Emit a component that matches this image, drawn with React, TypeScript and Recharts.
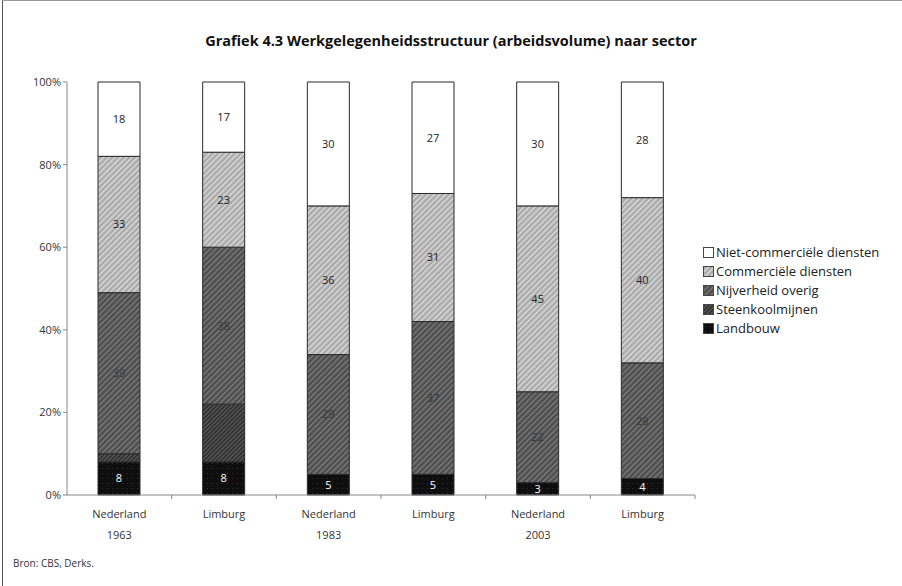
import React from "react";
import { BarChart, Bar, XAxis, YAxis, LabelList } from "recharts";

// categories
const regions = ["Nederland", "Limburg", "Nederland", "Limburg", "Nederland", "Limburg"];
const years = ["1963", "", "1983", "", "2003", ""];

// shares per sector (%), bottom to top
const landbouw = [8, 8, 5, 5, 3, 4];
const steenkoolmijnen = [2, 14, 0, 0, 0, 0];
const nijverheidOverig = [39, 38, 29, 37, 22, 28];
const commercieleDiensten = [33, 23, 36, 31, 45, 40];
const nietCommercieleDiensten = [18, 17, 30, 27, 30, 28];

const yTicks = [0, 20, 40, 60, 80, 100];

const data = regions.map((r, i) => ({
  key: `${r}-${i}`,
  landbouw: landbouw[i],
  steenkool: steenkoolmijnen[i],
  nijverheid: nijverheidOverig[i],
  commercieel: commercieleDiensten[i],
  niet: nietCommercieleDiensten[i],
}));

const series = [
  { key: "landbouw", name: "Landbouw", fill: "url(#pLandbouw)", label: "#ffffff", showLabel: true },
  { key: "steenkool", name: "Steenkoolmijnen", fill: "url(#pSteenkool)", label: "#3a3a3a", showLabel: false },
  { key: "nijverheid", name: "Nijverheid overig", fill: "url(#pNijverheid)", label: "#383838", showLabel: true },
  { key: "commercieel", name: "Commerciële diensten", fill: "url(#pCommercieel)", label: "#222222", showLabel: true },
  { key: "niet", name: "Niet-commerciële diensten", fill: "#ffffff", label: "#222222", showLabel: true },
];

const FONT = "'Open Sans', 'DejaVu Sans', sans-serif";
const PLOT_LEFT = 67;
const PLOT_RIGHT = 695;
const BAND = (PLOT_RIGHT - PLOT_LEFT) / regions.length;

function CategoryTick(props: any) {
  const { x, index } = props;
  return (
    <g>
      <line x1={x + BAND / 2} x2={x + BAND / 2} y1={495} y2={499} stroke="#888" />
      <text x={x} y={518} textAnchor="middle" fontSize={11} fill="#333" fontFamily={FONT}>
        {regions[index]}
      </text>
      {years[index] ? (
        <text x={x} y={539} textAnchor="middle" fontSize={11} fill="#333" fontFamily={FONT}>
          {years[index]}
        </text>
      ) : null}
    </g>
  );
}

export default function App() {
  return (
    <div style={{ position: "relative", width: 902, height: 586, background: "#fff", fontFamily: FONT }}>
      <style>{`body{margin:0}`}</style>
      <div style={{ position: "absolute", left: 2, top: 0, width: 1, height: 586, background: "#555" }} />
      <div style={{ position: "absolute", left: 2, top: 0, width: 900, height: 1, background: "#999" }} />
      <div
        style={{
          position: "absolute",
          left: 0,
          top: 31,
          width: 902,
          textAlign: "center",
          fontSize: 14.5,
          fontWeight: 700,
          color: "#111",
        }}
      >
        Grafiek 4.3 Werkgelegenheidsstructuur (arbeidsvolume) naar sector
      </div>
      <div style={{ position: "absolute", left: 0, top: 0 }}>
        <BarChart
          width={902}
          height={586}
          data={data}
          margin={{ top: 82, right: 902 - PLOT_RIGHT, bottom: 41, left: 0 }}
          barSize={42}
        >
          <defs>
            <pattern id="pCommercieel" width="4" height="4" patternUnits="userSpaceOnUse" patternTransform="rotate(45)">
              <rect width="4" height="4" fill="#ababab" />
              <rect width="1.3" height="4" fill="#dedede" />
            </pattern>
            <pattern id="pNijverheid" width="4" height="4" patternUnits="userSpaceOnUse" patternTransform="rotate(45)">
              <rect width="4" height="4" fill="#4e4e4e" />
              <rect width="1.3" height="4" fill="#7e7e7e" />
            </pattern>
            <pattern id="pSteenkool" width="3" height="3" patternUnits="userSpaceOnUse" patternTransform="rotate(45)">
              <rect width="3" height="3" fill="#333333" />
              <rect width="1" height="3" fill="#5e5e5e" />
            </pattern>
            <pattern id="pLandbouw" width="5" height="5" patternUnits="userSpaceOnUse">
              <rect width="5" height="5" fill="#0e0e0e" />
              <rect x="2" y="3" width="1" height="1" fill="#333" />
            </pattern>
          </defs>
          <XAxis
            dataKey="key"
            height={50}
            tick={<CategoryTick />}
            tickLine={false}
            axisLine={{ stroke: "#888" }}
            interval={0}
          />
          <YAxis
            width={PLOT_LEFT}
            domain={[0, 100]}
            ticks={yTicks}
            tickFormatter={(v) => `${v}%`}
            tick={{ fontSize: 11, fill: "#333", fontFamily: FONT }}
            tickLine={{ stroke: "#888" }}
            tickSize={4}
            axisLine={{ stroke: "#888" }}
          />
          {series.map((s) => (
            <Bar
              key={s.key}
              dataKey={s.key}
              name={s.name}
              stackId="a"
              fill={s.fill}
              stroke="#2a2a2a"
              strokeWidth={1}
              isAnimationActive={false}
            >
              {s.showLabel ? (
                <LabelList
                  dataKey={s.key}
                  position="center"
                  fill={s.label}
                  fontSize={11}
                  fontFamily={FONT}
                />
              ) : null}
            </Bar>
          ))}
        </BarChart>
      </div>
      <div style={{ position: "absolute", left: 703, top: 243, fontSize: 13, color: "#222", lineHeight: "19px" }}>
        {[...series].reverse().map((s) => (
          <div key={s.key} style={{ display: "flex", alignItems: "center", whiteSpace: "nowrap" }}>
            <svg width={11} height={11} style={{ marginRight: 2 }}>
              <rect x={0.5} y={0.5} width={10} height={10} fill={s.fill} stroke="#444" />
            </svg>
            {s.name}
          </div>
        ))}
      </div>
      <div style={{ position: "absolute", left: 13, top: 556, fontSize: 10, color: "#333" }}>
        Bron: CBS, Derks.
      </div>
    </div>
  );
}
